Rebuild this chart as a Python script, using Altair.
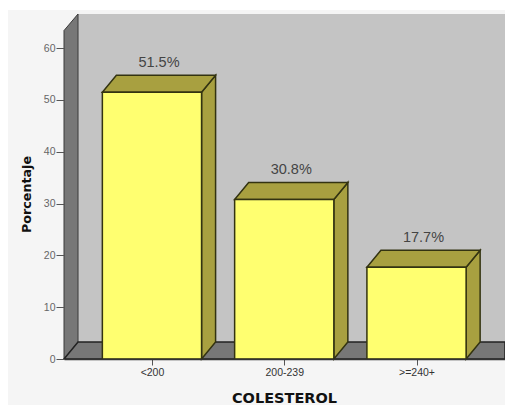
import json

import altair as alt
import pandas as pd

categories = ["<200", "200-239", ">=240+"]
percentages = [51.5, 30.8, 17.7]
y_ticks = [0, 10, 20, 30, 40, 50, 60]

# Extrusion of the pseudo-3D box, in axis units
DEPTH_X = 0.106
DEPTH_Y = 3.28
BAR_WIDTH = 0.75
X_MIN, X_MAX = -0.665, 2.669
Y_MAX = 66.6
WALL_LOW, WALL_HIGH = 63.4, Y_MAX

x_scale = alt.Scale(domain=[X_MIN, X_MAX], nice=False, zero=False)
y_scale = alt.Scale(domain=[0, Y_MAX], nice=False, zero=False)

OUTLINE = "#333311"
FONT = "Liberation Sans"
TITLE_FONT = "DejaVu Sans"

x_axis = alt.Axis(
    values=list(range(len(categories))),
    labelExpr=f"{json.dumps(categories)}[datum.value]",
    title="COLESTEROL",
    titleFont=TITLE_FONT,
    titleFontSize=14.5,
    titleFontWeight="bold",
    titleColor="#111111",
    titleX=220,
    titleY=32,
    labelFont=FONT,
    labelFontSize=10.5,
    labelColor="#333333",
    labelPadding=2,
    domainColor="#333333",
    domainWidth=1.5,
    tickColor="#555555",
    tickSize=6,
    grid=False,
    zindex=1,
)
y_axis = alt.Axis(
    values=y_ticks,
    title="Porcentaje",
    titleFont=TITLE_FONT,
    titleFontSize=12.7,
    titleFontWeight="bold",
    titleColor="#111111",
    titleX=-31,
    titleY=180,
    labelFont=FONT,
    labelFontSize=10.5,
    labelColor="#666666",
    labelPadding=1,
    domain=False,
    tickColor="#555555",
    tickSize=8,
    grid=False,
    zindex=1,
)

# Geometry tables derived from the percentages
fronts, sides, tops = [], [], []
for i, (cat, v) in enumerate(zip(categories, percentages)):
    left = i - BAR_WIDTH / 2
    right = i + BAR_WIDTH / 2
    fronts.append({"x": left, "x2": right, "y": 0, "y2": v,
                   "xc": i + DEPTH_X / 2, "ytop": v + DEPTH_Y, "label": f"{v}%"})
    sides += [
        {"bar": "side-" + cat, "x": right, "y": 0, "y2": v},
        {"bar": "side-" + cat, "x": right + DEPTH_X, "y": DEPTH_Y, "y2": v + DEPTH_Y},
    ]
    tops += [
        {"bar": "top-" + cat, "x": left, "y": v, "y2": v},
        {"bar": "top-" + cat, "x": left + DEPTH_X, "y": v, "y2": v + DEPTH_Y},
        {"bar": "top-" + cat, "x": right, "y": v, "y2": v + DEPTH_Y},
        {"bar": "top-" + cat, "x": right + DEPTH_X, "y": v + DEPTH_Y, "y2": v + DEPTH_Y},
    ]

fronts = pd.DataFrame(fronts)
faces = pd.DataFrame(sides + tops)

left_wall = pd.DataFrame([
    {"x": X_MIN, "y": 0, "y2": WALL_LOW},
    {"x": X_MIN + DEPTH_X, "y": DEPTH_Y, "y2": WALL_HIGH},
])
floor = pd.DataFrame([
    {"x": X_MIN, "y": 0, "y2": 0},
    {"x": X_MIN + DEPTH_X, "y": 0, "y2": DEPTH_Y},
    {"x": X_MAX, "y": 0, "y2": DEPTH_Y},
])
back_wall = pd.DataFrame([{"x": X_MIN + DEPTH_X, "x2": X_MAX, "y": DEPTH_Y, "y2": WALL_HIGH}])

panel = alt.Chart(pd.DataFrame({"a": [0]})).mark_rect(color="#f5f5f5").encode(
    x=alt.value(-56), x2=alt.value(441), y=alt.value(-4), y2=alt.value(391)
)

wall_back = alt.Chart(back_wall).mark_rect(color="#c4c4c4").encode(
    x=alt.X("x:Q", scale=x_scale, axis=x_axis),
    x2="x2:Q",
    y=alt.Y("y:Q", scale=y_scale, axis=y_axis),
    y2="y2:Q",
)
wall_left = alt.Chart(left_wall).mark_area(color="#777777", stroke="#3a3a3a", strokeWidth=1).encode(
    x=alt.X("x:Q", scale=x_scale), y=alt.Y("y:Q", scale=y_scale), y2="y2:Q"
)
wall_floor = alt.Chart(floor).mark_area(color="#777777", stroke="#222222", strokeWidth=1.5).encode(
    x=alt.X("x:Q", scale=x_scale), y=alt.Y("y:Q", scale=y_scale), y2="y2:Q"
)

bar_faces = alt.Chart(faces).mark_area(color="#a8a040", stroke=OUTLINE, strokeWidth=1.5).encode(
    x=alt.X("x:Q", scale=x_scale),
    y=alt.Y("y:Q", scale=y_scale),
    y2="y2:Q",
    detail="bar:N",
)
bar_fronts = alt.Chart(fronts).mark_rect(color="#ffff70", stroke=OUTLINE, strokeWidth=1.5).encode(
    x=alt.X("x:Q", scale=x_scale),
    x2="x2:Q",
    y=alt.Y("y:Q", scale=y_scale),
    y2="y2:Q",
)
bar_labels = alt.Chart(fronts).mark_text(
    font=FONT, fontSize=14.5, color="#444444", baseline="bottom", dy=-5
).encode(
    x=alt.X("xc:Q", scale=x_scale),
    y=alt.Y("ytop:Q", scale=y_scale),
    text="label:N",
)

chart = (
    alt.layer(panel, wall_back, wall_left, wall_floor, bar_faces, bar_fronts, bar_labels)
    .properties(
        width=441,
        height=345,
        background="white",
        autosize=alt.AutoSizeParams(type="none"),
        padding={"left": 64, "top": 14, "right": 0, "bottom": 46},
    )
    .configure_view(stroke=None)
)

chart.save("out.html", embed_options={"renderer": "svg", "actions": False})
